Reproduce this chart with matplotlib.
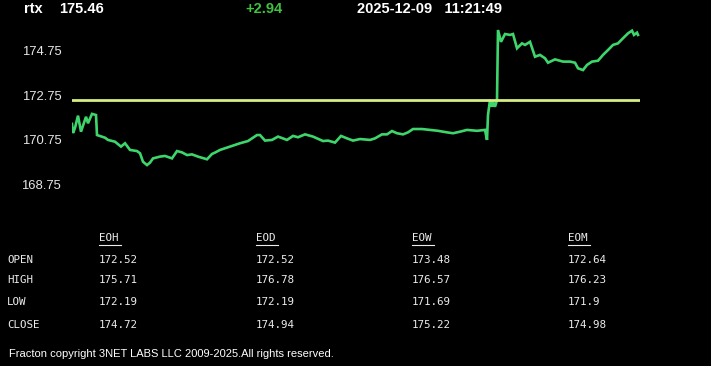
import matplotlib
matplotlib.use("Agg")
import matplotlib.pyplot as plt
from matplotlib.lines import Line2D

# ---- data ----
symbol = "rtx"
last_price = "175.46"
change = "+2.94"
timestamp = "2025-12-09   11:21:49"
ref_level = 172.52

minutes = [0, 1, 3, 6, 9, 14, 16, 20, 24, 25, 33, 36, 43, 49, 53, 58, 65, 68, 71, 75,
           78, 81, 88, 93, 100, 105, 110, 115, 120, 126, 135, 140, 143, 148, 158, 168,
           176, 185, 188, 193, 200, 206, 215, 221, 226, 233, 241, 251, 256, 263, 269,
           275, 281, 288, 298, 303, 310, 315, 320, 325, 331, 336, 341, 350, 358, 366,
           375, 381, 388, 395, 405, 413, 415, 416, 418, 420, 421, 423, 425, 426, 429,
           433, 438, 441, 445, 450, 453, 458, 463, 468, 473, 476, 483, 491, 498, 503,
           506, 511, 515, 520, 526, 531, 536, 541, 546, 551, 556, 560, 562, 565, 566]
prices = [171.46, 171.05, 171.28, 171.83, 171.11, 171.78, 171.49, 171.91, 171.86, 170.96,
          170.84, 170.74, 170.66, 170.44, 170.59, 170.29, 170.24, 170.14, 169.76, 169.61,
          169.72, 169.91, 169.99, 170.02, 169.91, 170.24, 170.18, 170.06, 170.09, 169.99,
          169.87, 170.11, 170.17, 170.29, 170.44, 170.59, 170.69, 170.96, 170.96, 170.71,
          170.74, 170.89, 170.74, 170.92, 170.86, 170.99, 170.89, 170.69, 170.71, 170.62,
          170.92, 170.81, 170.71, 170.78, 170.74, 170.81, 170.99, 170.99, 171.14, 171.04,
          170.99, 171.08, 171.23, 171.23, 171.19, 171.15, 171.08, 171.04, 171.11, 171.19,
          171.15, 171.19, 170.74, 171.86, 172.53, 172.23, 172.46, 172.23, 172.53, 175.68,
          175.15, 175.50, 175.46, 175.50, 174.86, 175.08, 175.01, 175.15, 174.48, 174.56,
          174.41, 174.21, 174.36, 174.26, 174.26, 174.21, 173.96, 173.88, 174.11, 174.26,
          174.30, 174.56, 174.78, 175.01, 175.08, 175.31, 175.53, 175.65, 175.46, 175.56,
          175.46]
y_ticks = [168.75, 170.75, 172.75, 174.75]

row_labels = ["OPEN", "HIGH", "LOW", "CLOSE"]
col_labels = ["EOH", "EOD", "EOW", "EOM"]
table_values = [
    ["172.52", "172.52", "173.48", "172.64"],
    ["175.71", "176.78", "176.57", "176.23"],
    ["172.19", "172.19", "171.69", "171.9"],
    ["174.72", "174.94", "175.22", "174.98"],
]
footer = "Fracton copyright 3NET LABS LLC 2009-2025.All rights reserved."

# ---- figure ----
W, H = 711, 366
fig = plt.figure(figsize=(W / 100, H / 100), dpi=100, facecolor="black")

def fx(px):
    return px / W

def fy(py):
    return 1 - py / H

ax_top, ax_bot, ax_left, ax_right = 20, 200, 72, 640
ax = fig.add_axes([fx(ax_left), fy(ax_bot), fx(ax_right) - fx(ax_left), (ax_bot - ax_top) / H])
ax.set_facecolor("black")
ax.plot(minutes, prices, color="#3ed66c", lw=1.9, solid_joinstyle="miter")
ax.axhline(ref_level, color="#d6ee82", lw=2.0)
ax.set_xlim(0, 568)
ax.set_ylim(168.04, 176.13)
ax.set_yticks(y_ticks)
ax.set_yticklabels([f"{v:.2f}" for v in y_ticks])
ax.tick_params(axis="y", length=0, pad=7.8, labelcolor="#e6e6e6", labelsize=9.4)
for lab in ax.get_yticklabels():
    lab.set_family("Liberation Sans")
ax.set_xticks([])
for s in ax.spines.values():
    s.set_visible(False)

# header
hdr = dict(family="Liberation Sans", fontweight="bold", fontsize=10.5, va="center")
fig.text(fx(24), fy(9), symbol, color="white", **hdr)
fig.text(fx(59), fy(9), last_price, color="white", **hdr)
fig.text(fx(245), fy(9), change, color="#3fc23f", **hdr)
fig.text(fx(357), fy(9), timestamp, color="white", **hdr)

# table
mono = dict(family="DejaVu Sans Mono", fontsize=7.8, color="#ececec", va="center")
col_x = [99, 256, 412, 568]
row_y = [260, 280, 302, 325]
head_y = 238
for cx, cl in zip(col_x, col_labels):
    fig.text(fx(cx), fy(head_y), cl, **mono)
    fig.add_artist(Line2D([fx(cx), fx(cx + 22)], [fy(245), fy(245)], color="#ececec", lw=0.8))
for ry, rl, vals in zip(row_y, row_labels, table_values):
    fig.text(fx(7), fy(ry), rl, **mono)
    for cx, v in zip(col_x, vals):
        fig.text(fx(cx), fy(ry), v, **mono)

fig.text(fx(9), fy(354), footer, family="Liberation Sans", fontsize=8.0, color="white", va="center")

fig.savefig("out.png", dpi=100, facecolor="black")
